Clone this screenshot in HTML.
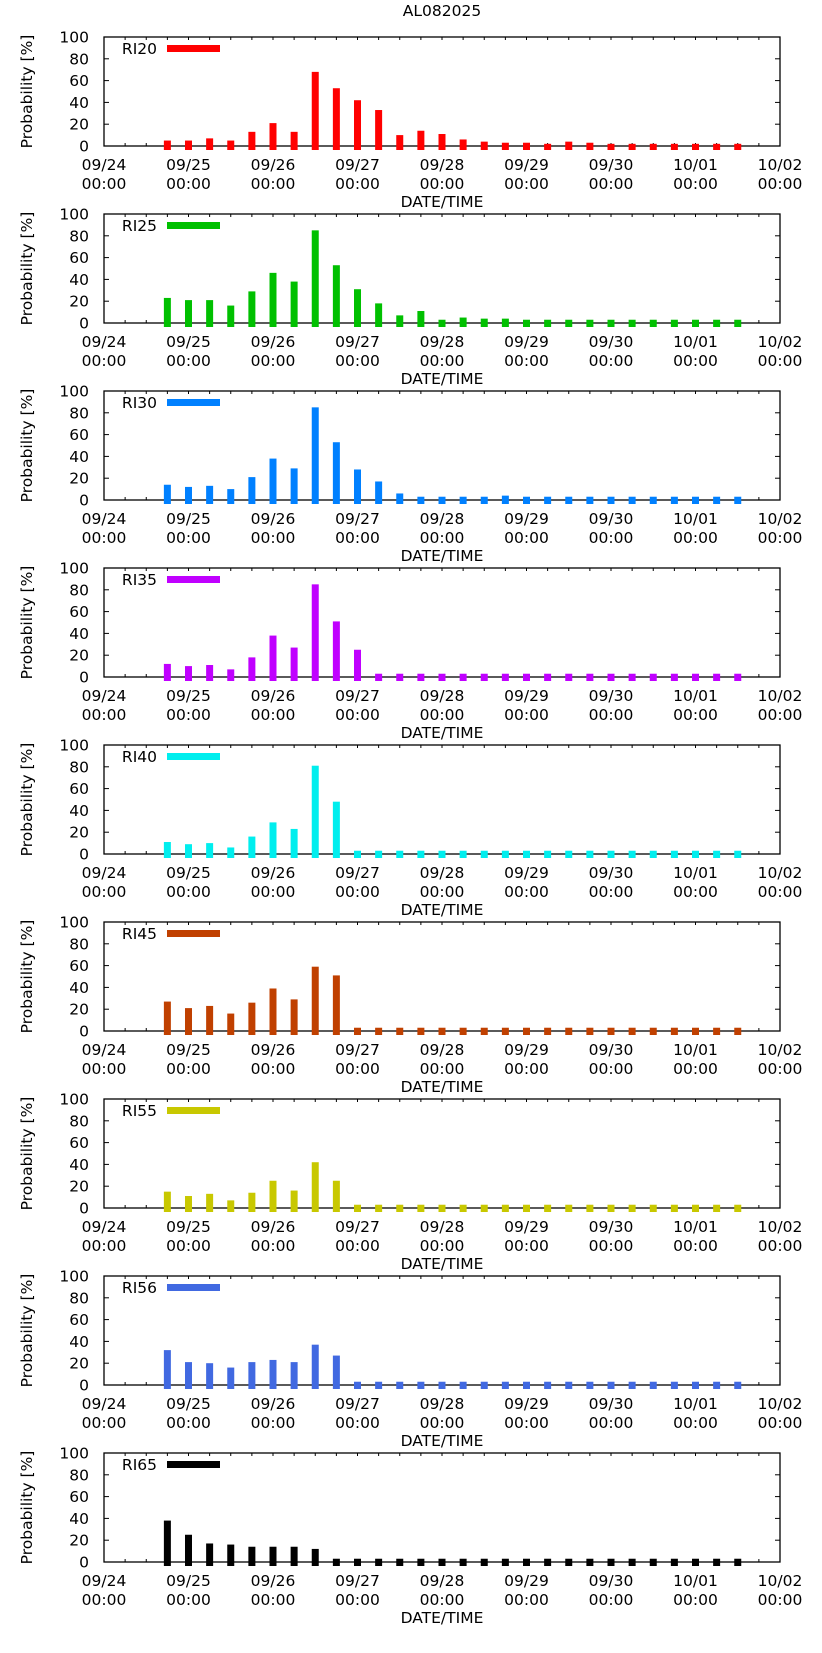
<!DOCTYPE html>
<html><head><meta charset="utf-8"><style>
html,body{margin:0;padding:0;background:#fff}
svg{display:block}
text{font-family:"DejaVu Sans","Liberation Sans",sans-serif;font-size:15.5px;fill:#000}
</style></head><body>
<svg id="chart" width="822" height="1653" viewBox="0 0 822 1653" xmlns="http://www.w3.org/2000/svg">
<text x="442" y="16" text-anchor="middle">AL082025</text>
</svg>
<script>
const seriesNames = ["RI20","RI25","RI30","RI35","RI40","RI45","RI55","RI56","RI65"];
const seriesColors = ["#ff0000","#00c000","#0080ff","#c000ff","#00eeee","#c04000","#c8c800","#4169e1","#000000"];
const dayLabels = ["09/24","09/25","09/26","09/27","09/28","09/29","09/30","10/01","10/02"];
const yTicks = [0,20,40,60,80,100];
// bar times in hours from 09/24 00:00
const barHours = [18,24,30,36,42,48,54,60,66,72,78,84,90,96,102,108,114,120,126,132,138,144,150,156,162,168,174,180];
const ri20 = [5,5,7,5,13,21,13,68,53,42,33,10,14,11,6,4,3,3,2,4,3,2,2,2,2,2,2,2];
const ri25 = [23,21,21,16,29,46,38,85,53,31,18,7,11,3,5,4,4,3,3,3,3,3,3,3,3,3,3,3];
const ri30 = [14,12,13,10,21,38,29,85,53,28,17,6,3,3,3,3,4,3,3,3,3,3,3,3,3,3,3,3];
const ri35 = [12,10,11,7,18,38,27,85,51,25,3,3,3,3,3,3,3,3,3,3,3,3,3,3,3,3,3,3];
const ri40 = [11,9,10,6,16,29,23,81,48,3,3,3,3,3,3,3,3,3,3,3,3,3,3,3,3,3,3,3];
const ri45 = [27,21,23,16,26,39,29,59,51,3,3,3,3,3,3,3,3,3,3,3,3,3,3,3,3,3,3,3];
const ri55 = [15,11,13,7,14,25,16,42,25,3,3,3,3,3,3,3,3,3,3,3,3,3,3,3,3,3,3,3];
const ri56 = [32,21,20,16,21,23,21,37,27,3,3,3,3,3,3,3,3,3,3,3,3,3,3,3,3,3,3,3];
const ri65 = [38,25,17,16,14,14,14,12,3,3,3,3,3,3,3,3,3,3,3,3,3,3,3,3,3,3,3,3];
const allSeries = [ri20,ri25,ri30,ri35,ri40,ri45,ri55,ri56,ri65];

const NS="http://www.w3.org/2000/svg";
const svg=document.getElementById('chart');
const L=104,R=780,PH=109,SP=177,TOP0=37;
function xScale(h){return L+(R-L)*h/192;}
function mk(tag,attrs,parent){const e=document.createElementNS(NS,tag);for(const k in attrs)e.setAttribute(k,attrs[k]);(parent||svg).appendChild(e);return e;}

allSeries.forEach((vals,p)=>{
  const top=TOP0+p*SP, base=top+PH;
  const yScale=v=>base-PH*v/100;
  const g=mk('g',{});
  
  
  const fr=mk('rect',{x:L,y:top,width:R-L,height:PH,fill:'none',stroke:'#000','stroke-width':1.3},g);
  
  
  yTicks.forEach(t=>{
    const y=yScale(t);
    mk('line',{x1:L,x2:L+5,y1:y,y2:y,stroke:'#000'},g);
    mk('line',{x1:R,x2:R-5,y1:y,y2:y,stroke:'#000'},g);
    const tx=mk('text',{x:89,y:y+5.5,'text-anchor':'end'},g);
    tx.textContent=t;
    
    
  });
  for(let h=0;h<=192;h+=6){
    const x=xScale(h);
    mk('line',{x1:x,x2:x,y1:base,y2:base-3,stroke:'#000'},g);
    mk('line',{x1:x,x2:x,y1:top,y2:top+3,stroke:'#000'},g);
  }
  dayLabels.forEach((d,i)=>{
    const x=xScale(i*24);
    const t1=mk('text',{x:x,y:base+24,'text-anchor':'middle'},g);
    t1.textContent=d;
    
    
    const t2=mk('text',{x:x,y:base+43,'text-anchor':'middle'},g);
    t2.textContent='00:00';
    
    
  });
  const xt=mk('text',{x:442,y:base+61,'text-anchor':'middle'},g);
  xt.textContent='DATE/TIME';
  
  
  const yt=mk('text',{x:0,y:0,'text-anchor':'middle',transform:'translate(32,'+(top+PH/2)+') rotate(-90)'},g);
  yt.textContent='Probability [%]';
  
  
  vals.forEach((v,i)=>{
    const x=xScale(barHours[i]);
    const yT=yScale(v);
    const b=mk('rect',{x:x-3.5,y:yT,width:7,height:(base+4)-yT,fill:seriesColors[p]},g);
    
    
  });
  const lt=mk('text',{x:157,y:top+17,'text-anchor':'end'},g);
  lt.textContent=seriesNames[p];
  
  
  const ll=mk('rect',{x:167,y:top+8,width:53,height:7,fill:seriesColors[p]},g);
  
  
});
</script>
</body></html>
